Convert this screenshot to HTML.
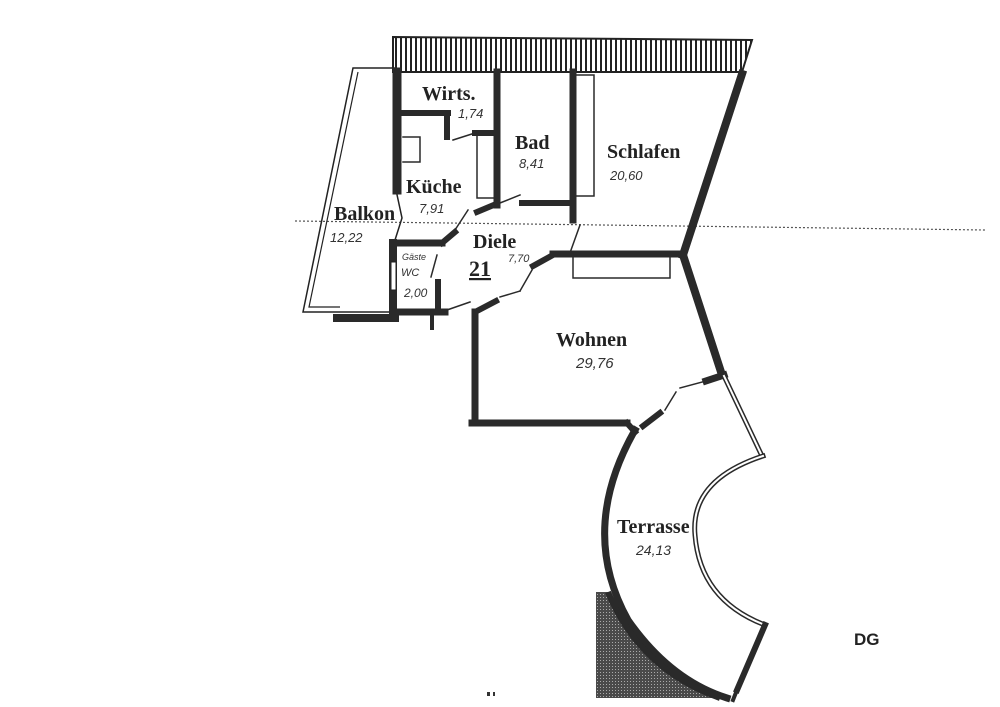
<!DOCTYPE html>
<html><head><meta charset="utf-8"><style>
html,body{margin:0;padding:0;background:#fff;}
svg{display:block;}
.t{font-family:"Liberation Serif",serif;font-weight:bold;fill:#222;}
.h{font-family:"Liberation Sans",sans-serif;font-style:italic;fill:#333;}
</style></head><body>
<svg width="1000" height="707" viewBox="0 0 1000 707" xmlns="http://www.w3.org/2000/svg">
<defs>
<pattern id="hatch" width="5" height="10" patternUnits="userSpaceOnUse">
<rect width="5" height="10" fill="#fff"/><rect width="2" height="10" fill="#222"/>
</pattern>
<pattern id="dots" width="3" height="3" patternUnits="userSpaceOnUse">
<rect width="3" height="3" fill="#4a4a4a"/><rect width="1" height="1" fill="#aaa"/>
</pattern>
</defs>
<rect width="1000" height="707" fill="#fff"/>
<line x1="295" y1="221" x2="985" y2="230" stroke="#555" stroke-width="1.2" stroke-dasharray="2,2"/>
<polygon points="393,37 752,40 742,72 393,72" fill="url(#hatch)" stroke="#222" stroke-width="2"/>
<polygon points="353,68 396,68 396,190 402,218 395,240 393,312 340,312 303,312" fill="none" stroke="#222" stroke-width="1.5"/>
<polyline points="358,72 309,307 340,307" fill="none" stroke="#222" stroke-width="1.2"/>
<g stroke="#2a2a2a" fill="none" stroke-linecap="square">
<line x1="397" y1="72" x2="397" y2="190" stroke-width="9"/>
<line x1="337" y1="318" x2="395" y2="318" stroke-width="8"/>
<line x1="742" y1="74" x2="683" y2="255" stroke-width="8"/>
<line x1="683" y1="255" x2="722" y2="375" stroke-width="8"/>
<line x1="553" y1="254" x2="683" y2="254" stroke-width="7"/>
<line x1="475" y1="312" x2="475" y2="423" stroke-width="7"/>
<line x1="472" y1="423" x2="627" y2="423" stroke-width="7"/>
<line x1="627" y1="423" x2="635" y2="432" stroke-width="6"/>
<line x1="403" y1="113" x2="448" y2="113" stroke-width="6"/>
<line x1="447" y1="113" x2="447" y2="137" stroke-width="6"/>
<polyline points="403,137 420,137 420,162 403,162" stroke-width="1.5"/>
<line x1="453" y1="140" x2="475" y2="133" stroke-width="1.5"/>
<line x1="475" y1="133" x2="497" y2="133" stroke-width="6"/>
<line x1="497" y1="72" x2="497" y2="205" stroke-width="7"/>
<polyline points="497,135 477,135 477,198 497,198" stroke-width="1.5"/>
<line x1="477" y1="212" x2="496" y2="204" stroke-width="6"/>
<line x1="500" y1="203" x2="520" y2="195" stroke-width="1.5"/>
<line x1="522" y1="203" x2="573" y2="203" stroke-width="6"/>
<line x1="573" y1="72" x2="573" y2="220" stroke-width="7"/>
<polyline points="577,75 594,75 594,196 577,196" stroke-width="1.5"/>
<line x1="580" y1="225" x2="571" y2="250" stroke-width="1.5"/>
<polyline points="573,256 573,278 670,278 670,258" stroke-width="1.5"/>
<line x1="393" y1="243" x2="393" y2="318" stroke-width="8"/>
<line x1="393" y1="243" x2="442" y2="243" stroke-width="7"/>
<line x1="442" y1="243" x2="455" y2="232" stroke-width="6"/>
<line x1="455" y1="230" x2="468" y2="210" stroke-width="1.5"/>
<line x1="395" y1="312" x2="445" y2="312" stroke-width="7"/>
<line x1="438" y1="282" x2="438" y2="312" stroke-width="6"/>
<line x1="431" y1="277" x2="437" y2="255" stroke-width="1.5"/>
<line x1="432" y1="312" x2="432" y2="328" stroke-width="4"/>
<line x1="447" y1="310" x2="470" y2="302" stroke-width="1.5"/>
<rect x="391" y="262" width="5" height="28" fill="#fff" stroke="#222" stroke-width="1"/>
<line x1="477" y1="311" x2="496" y2="301" stroke-width="6"/>
<line x1="500" y1="297" x2="520" y2="291" stroke-width="1.5"/>
<line x1="520" y1="291" x2="532" y2="270" stroke-width="1.5"/>
<line x1="533" y1="266" x2="553" y2="255" stroke-width="6"/>
<line x1="706" y1="381" x2="724" y2="375" stroke-width="7"/>
<line x1="680" y1="388" x2="706" y2="381" stroke-width="1.5"/>
<line x1="676" y1="392" x2="665" y2="410" stroke-width="1.5"/>
<line x1="660" y1="413" x2="643" y2="426" stroke-width="6"/>
<path d="M 635 430 Q 578 530 628 620 Q 670 680 727 698" stroke-width="7"/>
<line x1="724" y1="376" x2="762" y2="456" stroke-width="5"/>
<line x1="724" y1="376" x2="762" y2="456" stroke="#fff" stroke-width="2"/>
<path d="M 763 456 Q 690 480 695 535 Q 700 600 765 625" stroke-width="5"/>
<path d="M 763 456 Q 690 480 695 535 Q 700 600 765 625" stroke="#fff" stroke-width="2"/>
<line x1="765" y1="625" x2="737" y2="690" stroke-width="6"/>
<line x1="737" y1="690" x2="733" y2="700" stroke-width="4"/>
</g>
<path d="M 596 592 L 608 592 Q 640 670 720 698 L 596 698 Z" fill="url(#dots)"/>
<path d="M 608 592 Q 640 670 720 698" fill="none" stroke="#2a2a2a" stroke-width="6"/>
<text class="t" x="422" y="100" font-size="20">Wirts.</text>
<text class="h" x="458" y="118" font-size="13">1,74</text>
<text class="t" x="515" y="149" font-size="20">Bad</text>
<text class="h" x="519" y="168" font-size="13">8,41</text>
<text class="t" x="607" y="158" font-size="20">Schlafen</text>
<text class="h" x="610" y="180" font-size="13">20,60</text>
<text class="t" x="406" y="193" font-size="20">Küche</text>
<text class="h" x="419" y="213" font-size="13">7,91</text>
<text class="t" x="334" y="220" font-size="20">Balkon</text>
<text class="h" x="330" y="242" font-size="13">12,22</text>
<text class="t" x="473" y="248" font-size="20">Diele</text>
<text class="t" x="469" y="276" font-size="22" text-decoration="underline">21</text>
<text class="h" x="508" y="262" font-size="11">7,70</text>
<text class="h" x="402" y="260" font-size="9">Gäste</text>
<text class="h" x="401" y="276" font-size="11">WC</text>
<text class="h" x="404" y="297" font-size="12">2,00</text>
<text class="t" x="556" y="346" font-size="20">Wohnen</text>
<text class="h" x="576" y="368" font-size="15">29,76</text>
<text class="t" x="617" y="533" font-size="20">Terrasse</text>
<text class="h" x="636" y="555" font-size="14">24,13</text>
<text x="854" y="645" font-family="Liberation Sans,sans-serif" font-weight="bold" font-size="17" fill="#222">DG</text>
<rect x="487" y="692" width="3" height="4" fill="#333"/><rect x="493" y="692" width="2" height="4" fill="#333"/>
</svg>
</body></html>
